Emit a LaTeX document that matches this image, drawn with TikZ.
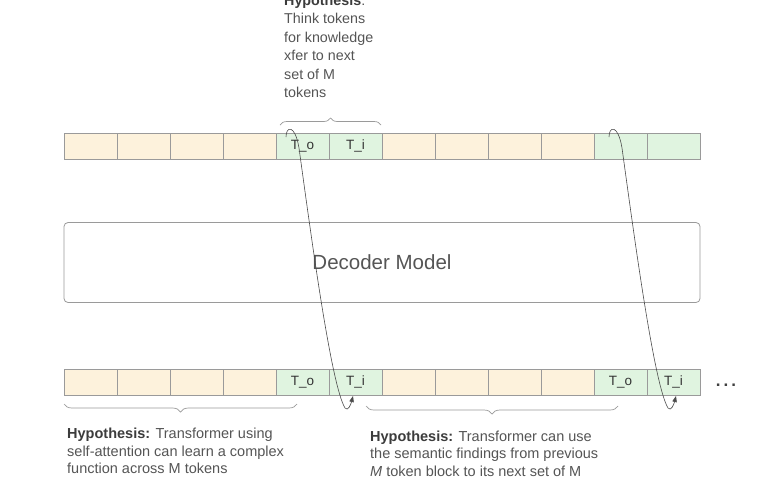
\documentclass[tikz,border=0pt]{standalone}
\usepackage{fontspec}
\setmainfont{Liberation Sans}
\usetikzlibrary{decorations.pathreplacing,arrows.meta,calc}
\definecolor{cellorange}{HTML}{FDF2DC}
\definecolor{cellgreen}{HTML}{E0F4E0}
\definecolor{cellline}{HTML}{9A9A9A}
\definecolor{txt}{HTML}{555555}
\definecolor{txtbold}{HTML}{3C3C3C}
\begin{document}
\begin{tikzpicture}[x=1pt,y=-1pt,
 cell/.style={draw=cellline,line width=0.8pt,minimum width=53pt,minimum height=26pt,inner sep=0pt,font=\fontsize{13.5}{15}\selectfont,text=black!80},
 ocell/.style={cell,fill=cellorange},
 gcell/.style={cell,fill=cellgreen},
 hyp/.style={text=txt,align=left,inner sep=0pt,anchor=north west},
 brc/.style={draw=cellline,line width=0.7pt,decorate,decoration={brace,amplitude=#1}},
 brc/.default=8pt,
 link/.style={draw=black!70,line width=0.6pt,-{Triangle[length=6pt,width=4.5pt]}}]
\useasboundingbox (0,0) rectangle (770,480);
\fill[white] (0,0) rectangle (770,480);

% top row
\foreach \i/\s/\l in {1/ocell/{},2/ocell/{},3/ocell/{},4/ocell/{},5/gcell/{T\_o},6/gcell/{T\_i},7/ocell/{},8/ocell/{},9/ocell/{},10/ocell/{},11/gcell/{},12/gcell/{}}
  \node[\s] (t\i) at ({90.5+53*(\i-1)},146) {\l};
% bottom row
\foreach \i/\s/\l in {1/ocell/{},2/ocell/{},3/ocell/{},4/ocell/{},5/gcell/{T\_o},6/gcell/{T\_i},7/ocell/{},8/ocell/{},9/ocell/{},10/ocell/{},11/gcell/{T\_o},12/gcell/{T\_i}}
  \node[\s] (b\i) at ({90.5+53*(\i-1)},382) {\l};

\node[text=black!75,font=\fontsize{17}{18}\selectfont\bfseries,anchor=base] (dots) at (726,386) {.\hspace{3pt}.\hspace{3pt}.};

% decoder
\node[draw=cellline,rounded corners=4pt,line width=0.8pt,minimum width=636pt,minimum height=80pt,
      font=\fontsize{20.5}{24}\selectfont,text=txt] (dec) at (382,262.5) {Decoder Model};

% hypothesis texts
\node[hyp,font=\fontsize{14.3}{18.5}\selectfont] (htop) at (284,-5.2)
  {\textcolor{txtbold}{\textbf{Hypothesis}}:\\Think tokens\\for knowledge\\xfer to next\\set of M\\tokens};
\node[hyp,font=\fontsize{14.5}{17.8}\selectfont] (hleft) at (67,427.5)
  {\textcolor{txtbold}{\textbf{Hypothesis:}} Transformer using\\self-attention can learn a complex\\function across M tokens};
\node[hyp,font=\fontsize{14.5}{17.5}\selectfont] (hright) at (370,430.5)
  {\textcolor{txtbold}{\textbf{Hypothesis:}} Transformer can use\\the semantic findings from previous\\\textit{M} token block to its next set of M};

% braces
\coordinate (bt1) at (280,125); \coordinate (bt2) at (381,125);
\draw[brc=7pt] (bt1) -- (bt2);
\coordinate (bl1) at (297,404); \coordinate (bl2) at (64,404);
\draw[brc] (bl1) -- (bl2);
\coordinate (br1) at (618,406); \coordinate (br2) at (366,406);
\draw[brc] (br1) -- (br2);

% links
\coordinate (s1) at (286,137); \coordinate (e1) at (353,396);
\draw[link] (s1) .. controls (286,126) and (295,124) .. (299,148)
  .. controls (311,235) and (331,385) .. (345,408)
  .. controls (348,412) and (351,404) .. (e1);
\coordinate (s2) at (609,137); \coordinate (e2) at (676,396);
\draw[link] (s2) .. controls (609,126) and (618,124) .. (622,148)
  .. controls (634,235) and (654,385) .. (668,408)
  .. controls (671,412) and (674,404) .. (e2);
\end{tikzpicture}
\end{document}
